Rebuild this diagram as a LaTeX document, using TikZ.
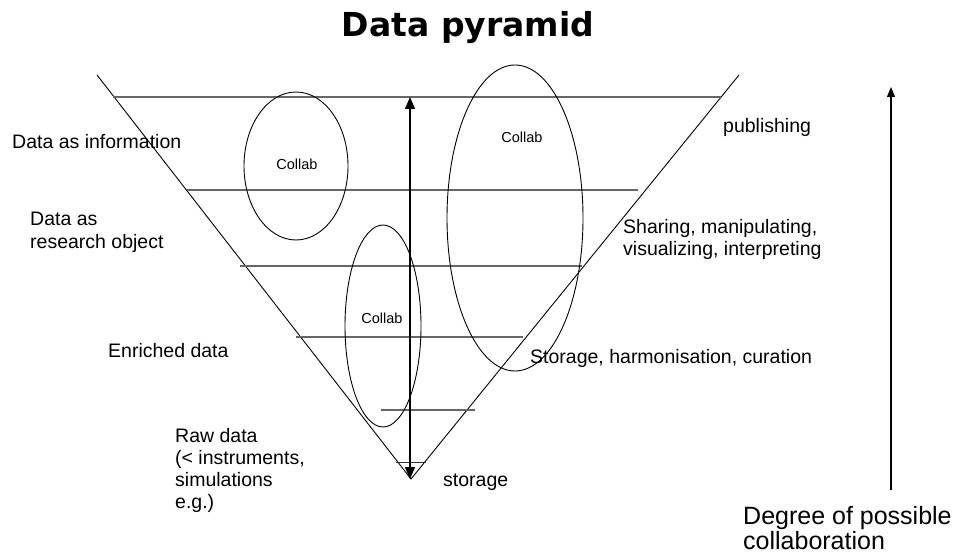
\documentclass[tikz,border=0pt]{standalone}
\usepackage{fontspec}
\setmainfont{Liberation Sans}
\newfontfamily\titlefamily{DejaVu Sans}
\usetikzlibrary{arrows.meta,shapes.geometric}
\tikzset{
  edge/.style={draw=black, line width=0.9pt},
  level/.style={draw=black!60, line width=1.4pt},
  blob/.style={draw=black, line width=0.9pt, ellipse, inner sep=0pt},
  lbl/.style={anchor=base west, inner sep=0pt, align=left, font=\fontsize{19.5}{22}\selectfont},
  small/.style={inner sep=0pt, font=\fontsize{14.5}{16}\selectfont},
  arr/.style={draw=black, line width=1.3pt},
}
\begin{document}
\begin{tikzpicture}[x=1pt,y=-1pt]
\useasboundingbox (0,0) rectangle (955,553);
% title
\node[anchor=base, inner sep=0pt, font=\titlefamily\bfseries\fontsize{33}{36}\selectfont] (title) at (468,37) {Data pyramid};
% pyramid
\coordinate (tl) at (97,75);
\coordinate (tr) at (739,75);
\coordinate (apex) at (411,479);
\draw[edge] (tl) -- (apex) -- (tr);
% levels
\coordinate (h1a) at (113,97);  \coordinate (h1b) at (721,97);
\coordinate (h2a) at (187,190); \coordinate (h2b) at (638,190);
\coordinate (h3a) at (240,266); \coordinate (h3b) at (582,266);
\coordinate (h4a) at (296,337); \coordinate (h4b) at (523,337);
\coordinate (h5a) at (381,410); \coordinate (h5b) at (475,410);
\coordinate (h6a) at (396,462); \coordinate (h6b) at (426,462);
\draw[level] (h1a) -- (h1b);
\draw[level] (h2a) -- (h2b);
\draw[level] (h3a) -- (h3b);
\draw[level] (h4a) -- (h4b);
\draw[level] (h5a) -- (h5b);
\draw[level, draw=black!80, line width=1pt] (h6a) -- (h6b);
% ellipses
\node[blob, minimum width=104pt, minimum height=148pt] (e1) at (296,166) {};
\node[blob, minimum width=136pt, minimum height=306pt] (e2) at (515,218) {};
\node[blob, minimum width=76pt, minimum height=202pt] (e3) at (383,326) {};
\node[small] (c1) at (297,164) {Collab};
\node[small] (c2) at (522,137) {Collab};
\node[small] (c3) at (382,318) {Collab};
% central double arrow
\coordinate (vt) at (410,97);
\coordinate (vb) at (410,479);
\draw[arr, {Triangle[width=10pt,length=12pt]}-{Triangle[width=10pt,length=12pt]}] (vb) -- (vt);
% left labels (anchor at baseline of last line)
\node[lbl] (l1) at (12,149) {Data as information};
\node[lbl] (l2) at (30,248) {Data as\\research object};
\node[lbl] (l3) at (108,357) {Enriched data};
\node[lbl] (l4) at (175,508) {Raw data\\(< instruments,\\simulations\\e.g.)};
% right labels
\node[lbl] (r1) at (723,133) {publishing};
\node[lbl] (r2) at (623,255) {Sharing, manipulating,\\visualizing, interpreting};
\node[lbl] (r3) at (530,363) {Storage, harmonisation, curation};
\node[lbl] (r4) at (443,486) {storage};
% degree arrow
\node[anchor=base west, inner sep=0pt, align=left, font=\fontsize{25}{25}\selectfont] (deg) at (743,549) {Degree of possible\\collaboration};
\coordinate (dtop) at (891,87);
\coordinate (dbot) at (891,490);
\draw[arr, line width=1.1pt, -{Triangle[width=8pt,length=10pt]}] (dbot) -- (dtop);
\end{tikzpicture}
\end{document}
